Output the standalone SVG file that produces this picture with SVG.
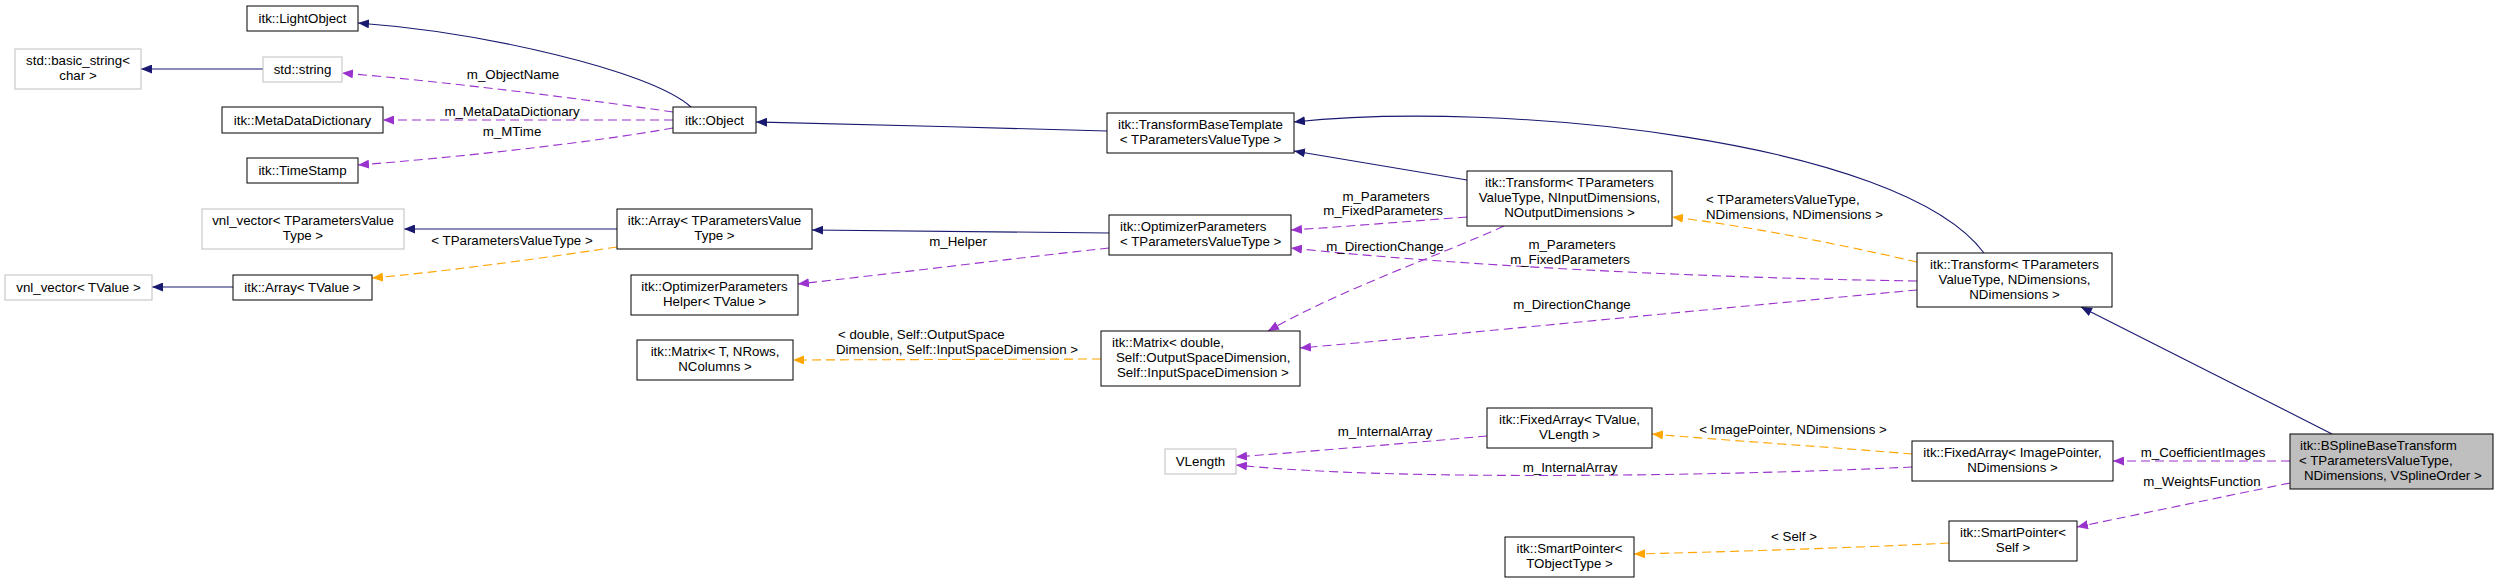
<svg xmlns="http://www.w3.org/2000/svg" width="2499" height="583" viewBox="0 0 2499 583">
<style>
text{font-family:"Liberation Sans",Arial,sans-serif;font-size:13.3px;fill:#000}
.c{text-anchor:middle}
.s{text-anchor:start}
.n rect{fill:#fff;stroke:#000;stroke-width:1}
.g rect{fill:#fff;stroke:#bfbfbf;stroke-width:1}
.e{fill:none;stroke-width:1.1}
.inh{stroke:#191970}
.use{stroke:#9a32cd;stroke-dasharray:9,5}
.tpl{stroke:#ffa500;stroke-dasharray:9,5}
</style>
<defs>
<marker id="aN" markerUnits="userSpaceOnUse" markerWidth="12" markerHeight="9" refX="11" refY="4.5" orient="auto"><path d="M0,0 L11,4.5 L0,9 z" fill="#191970"/></marker>
<marker id="aP" markerUnits="userSpaceOnUse" markerWidth="12" markerHeight="9" refX="11" refY="4.5" orient="auto"><path d="M0,0 L11,4.5 L0,9 z" fill="#9a32cd"/></marker>
<marker id="aO" markerUnits="userSpaceOnUse" markerWidth="12" markerHeight="9" refX="11" refY="4.5" orient="auto"><path d="M0,0 L11,4.5 L0,9 z" fill="#ffa500"/></marker>
</defs>
<rect width="2499" height="583" fill="#fff"/>
<g id="connectors">
<path class="e inh" marker-end="url(#aN)" d="M691,107 C650,70 480,32 358,23"/>
<path class="e inh" marker-end="url(#aN)" d="M263,69 L141,69"/>
<path class="e inh" marker-end="url(#aN)" d="M1107,131 C1000,128 850,124 756,122"/>
<path class="e inh" marker-end="url(#aN)" d="M617,229 L404,229"/>
<path class="e inh" marker-end="url(#aN)" d="M233,287 L152,287"/>
<path class="e inh" marker-end="url(#aN)" d="M1109,233 C1000,232 900,231 812,230"/>
<path class="e inh" marker-end="url(#aN)" d="M1467,180 L1294,151"/>
<path class="e inh" marker-end="url(#aN)" d="M1984,253 C1900,140 1500,100 1294,122"/>
<path class="e inh" marker-end="url(#aN)" d="M2332,434 L2081,307"/>
<path class="e use" marker-end="url(#aP)" d="M673,112 C590,100 450,82 342,73"/>
<path class="e use" marker-end="url(#aP)" d="M673,120 L383,120"/>
<path class="e use" marker-end="url(#aP)" d="M673,128 C590,143 450,158 358,165"/>
<path class="e use" marker-end="url(#aP)" d="M1109,248 C1000,260 880,275 798,284"/>
<path class="e use" marker-end="url(#aP)" d="M1467,217 C1400,222 1340,227 1291,230"/>
<path class="e use" marker-end="url(#aP)" d="M1504,226 C1440,255 1340,290 1268,331"/>
<path class="e use" marker-end="url(#aP)" d="M1917,281 C1700,278 1450,265 1291,248"/>
<path class="e use" marker-end="url(#aP)" d="M1917,290 C1700,310 1450,335 1300,348"/>
<path class="e use" marker-end="url(#aP)" d="M1912,467 C1750,475 1400,482 1236,465"/>
<path class="e use" marker-end="url(#aP)" d="M1487,436 C1400,444 1300,452 1236,457"/>
<path class="e use" marker-end="url(#aP)" d="M2290,461 L2113,461"/>
<path class="e use" marker-end="url(#aP)" d="M2290,483 L2077,527"/>
<path class="e tpl" marker-end="url(#aO)" d="M617,247 C530,260 440,272 372,278"/>
<path class="e tpl" marker-end="url(#aO)" d="M1101,359 L793,360"/>
<path class="e tpl" marker-end="url(#aO)" d="M1917,262 C1830,242 1740,225 1672,217"/>
<path class="e tpl" marker-end="url(#aO)" d="M1912,454 C1830,447 1720,440 1652,434"/>
<path class="e tpl" marker-end="url(#aO)" d="M1949,543 C1850,548 1720,552 1634,554"/>
<text class="c" x="513" y="79">m_ObjectName</text>
<text class="c" x="512" y="116">m_MetaDataDictionary</text>
<text class="c" x="512" y="136">m_MTime</text>
<text class="c" x="512" y="245">&lt; TParametersValueType &gt;</text>
<text class="c" x="958" y="246">m_Helper</text>
<text class="s" x="838" y="339">&lt; double, Self::OutputSpace</text>
<text class="s" x="836" y="354">Dimension, Self::InputSpaceDimension &gt;</text>
<text class="c" x="1386" y="201">m_Parameters</text>
<text class="c" x="1383" y="215">m_FixedParameters</text>
<text class="c" x="1385" y="251">m_DirectionChange</text>
<text class="s" x="1706" y="204">&lt; TParametersValueType,</text>
<text class="s" x="1706" y="219">NDimensions, NDimensions &gt;</text>
<text class="c" x="1572" y="249">m_Parameters</text>
<text class="c" x="1570" y="264">m_FixedParameters</text>
<text class="c" x="1572" y="309">m_DirectionChange</text>
<text class="c" x="1385" y="436">m_InternalArray</text>
<text class="c" x="1570" y="472">m_InternalArray</text>
<text class="c" x="1793" y="434">&lt; ImagePointer, NDimensions &gt;</text>
<text class="c" x="1794" y="541">&lt; Self &gt;</text>
<text class="c" x="2203" y="457">m_CoefficientImages</text>
<text class="c" x="2202" y="486">m_WeightsFunction</text>
</g>
<g id="n_lightobject" class="n"><rect x="247" y="6" width="111" height="25"/><text class="c" x="302.5" y="23">itk::LightObject</text></g>
<g id="n_basic_string" class="g"><rect x="15" y="49" width="126" height="40"/><text class="c" x="78" y="65">std::basic_string&lt;</text><text class="c" x="78" y="80">char &gt;</text></g>
<g id="n_string" class="g"><rect x="263" y="57" width="79" height="25"/><text class="c" x="302.5" y="74">std::string</text></g>
<g id="n_metadatadict" class="n"><rect x="222" y="107" width="161" height="26"/><text class="c" x="302.5" y="124.5">itk::MetaDataDictionary</text></g>
<g id="n_timestamp" class="n"><rect x="247" y="158" width="111" height="25"/><text class="c" x="302.5" y="175">itk::TimeStamp</text></g>
<g id="n_object" class="n"><rect x="673" y="107" width="83" height="26"/><text class="c" x="714.5" y="124.5">itk::Object</text></g>
<g id="n_vnl_tpv" class="g"><rect x="202" y="209" width="202" height="40"/><text class="c" x="303" y="225">vnl_vector&lt; TParametersValue</text><text class="c" x="303" y="240">Type &gt;</text></g>
<g id="n_array_tpv" class="n"><rect x="617" y="209" width="195" height="40"/><text class="c" x="714.5" y="225">itk::Array&lt; TParametersValue</text><text class="c" x="714.5" y="240">Type &gt;</text></g>
<g id="n_vnl_tv" class="g"><rect x="5" y="275" width="147" height="25"/><text class="c" x="78.5" y="292">vnl_vector&lt; TValue &gt;</text></g>
<g id="n_array_tv" class="n"><rect x="233" y="275" width="139" height="25"/><text class="c" x="302.5" y="292">itk::Array&lt; TValue &gt;</text></g>
<g id="n_opthelper" class="n"><rect x="631" y="275" width="167" height="40"/><text class="c" x="714.5" y="291">itk::OptimizerParameters</text><text class="c" x="714.5" y="306">Helper&lt; TValue &gt;</text></g>
<g id="n_matrix_t" class="n"><rect x="637" y="340" width="156" height="40"/><text class="c" x="715" y="356">itk::Matrix&lt; T, NRows,</text><text class="c" x="715" y="371">NColumns &gt;</text></g>
<g id="n_tbt" class="n"><rect x="1107" y="113" width="187" height="40"/><text class="c" x="1200.5" y="129">itk::TransformBaseTemplate</text><text class="c" x="1200.5" y="144">&lt; TParametersValueType &gt;</text></g>
<g id="n_optparams" class="n"><rect x="1109" y="215" width="182" height="40"/><text class="s" x="1120" y="231">itk::OptimizerParameters</text><text class="s" x="1120" y="246">&lt; TParametersValueType &gt;</text></g>
<g id="n_matrix_d" class="n"><rect x="1101" y="331" width="199" height="55"/><text class="s" x="1112" y="347">itk::Matrix&lt; double,</text><text class="s" x="1116" y="362">Self::OutputSpaceDimension,</text><text class="s" x="1117" y="377">Self::InputSpaceDimension &gt;</text></g>
<g id="n_vlength" class="g"><rect x="1165" y="449" width="71" height="25"/><text class="c" x="1200.5" y="466">VLength</text></g>
<g id="n_transform1" class="n"><rect x="1467" y="171" width="205" height="55"/><text class="c" x="1569.5" y="187">itk::Transform&lt; TParameters</text><text class="c" x="1569.5" y="202">ValueType, NInputDimensions,</text><text class="c" x="1569.5" y="217">NOutputDimensions &gt;</text></g>
<g id="n_transform2" class="n"><rect x="1917" y="253" width="195" height="54"/><text class="c" x="2014.5" y="269">itk::Transform&lt; TParameters</text><text class="c" x="2014.5" y="284">ValueType, NDimensions,</text><text class="c" x="2014.5" y="299">NDimensions &gt;</text></g>
<g id="n_fixedarray_tv" class="n"><rect x="1487" y="408" width="165" height="40"/><text class="c" x="1569.5" y="424">itk::FixedArray&lt; TValue,</text><text class="c" x="1569.5" y="439">VLength &gt;</text></g>
<g id="n_fixedarray_ip" class="n"><rect x="1912" y="441" width="201" height="40"/><text class="c" x="2012.5" y="457">itk::FixedArray&lt; ImagePointer,</text><text class="c" x="2012.5" y="472">NDimensions &gt;</text></g>
<g id="n_smart_tobj" class="n"><rect x="1505" y="537" width="129" height="40"/><text class="c" x="1569.5" y="553">itk::SmartPointer&lt;</text><text class="c" x="1569.5" y="568">TObjectType &gt;</text></g>
<g id="n_smart_self" class="n"><rect x="1949" y="521" width="128" height="40"/><text class="c" x="2013" y="537">itk::SmartPointer&lt;</text><text class="c" x="2013" y="552">Self &gt;</text></g>
<g id="n_bspline" class="n"><rect x="2290" y="434" width="203" height="55" style="fill:#bfbfbf"/><text class="s" x="2300" y="450">itk::BSplineBaseTransform</text><text class="s" x="2299" y="465">&lt; TParametersValueType,</text><text class="s" x="2304" y="480">NDimensions, VSplineOrder &gt;</text></g>
</svg>
